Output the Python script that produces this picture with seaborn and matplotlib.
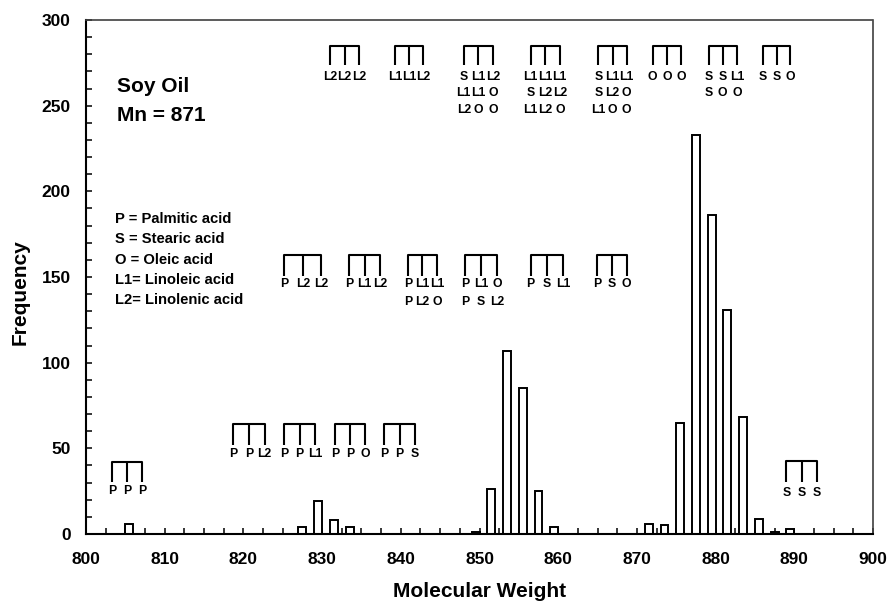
import numpy as np
import pandas as pd
import matplotlib
matplotlib.use("Agg")
import matplotlib.pyplot as plt
import seaborn as sns

# Triglyceride molecular-weight distribution of soy oil
mol_weight = [805, 827, 829, 831, 833, 849, 851, 853, 855, 857, 859,
              871, 873, 875, 877, 879, 881, 883, 885, 887, 889]
frequency = [6, 4, 19, 8, 4, 1, 26, 107, 85, 25, 4,
             6, 5, 65, 233, 186, 131, 68, 9, 1, 3]

x_ticks = [800, 810, 820, 830, 840, 850, 860, 870, 880, 890, 900]
y_ticks = [0, 50, 100, 150, 200, 250, 300]

title_lines = ["Soy Oil", "Mn = 871"]
acid_key = ["P = Palmitic acid", "S = Stearic acid", "O = Oleic acid",
            "L1= Linoleic acid", "L2= Linolenic acid"]

# fatty-acid combinations grouped by band
combos_low = [
    [["P", "P", "P"]],
    [["P", "P", "L2"]],
    [["P", "P", "L1"]],
    [["P", "P", "O"]],
    [["P", "P", "S"]],
    [["S", "S", "S"]],
]
combos_mid = [
    [["P", "L2", "L2"]],
    [["P", "L1", "L2"]],
    [["P", "L1", "L1"], ["P", "L2", "O"]],
    [["P", "L1", "O"], ["P", "S", "L2"]],
    [["P", "S", "L1"]],
    [["P", "S", "O"]],
]
combos_high = [
    [["L2", "L2", "L2"]],
    [["L1", "L1", "L2"]],
    [["S", "L1", "L2"], ["L1", "L1", "O"], ["L2", "O", "O"]],
    [["L1", "L1", "L1"], ["S", "L2", "L2"], ["L1", "L2", "O"]],
    [["S", "L1", "L1"], ["S", "L2", "O"], ["L1", "O", "O"]],
    [["O", "O", "O"]],
    [["S", "S", "L1"], ["S", "O", "O"]],
    [["S", "S", "O"]],
]

# bracket layout: (x left, x right, y top, y tick end, first label y)
layout_low = [
    (803.3, 807.1, 42.3, 30.6, 25.2),
    (818.7, 822.7, 64.3, 52.0, 46.8),
    (825.2, 829.1, 64.3, 52.0, 46.8),
    (831.6, 835.5, 64.3, 52.0, 46.8),
    (837.9, 841.8, 64.3, 52.0, 46.8),
    (889.0, 892.9, 42.8, 30.5, 24.0),
]
layout_mid = [
    (825.2, 829.9, 162.9, 150.6, 145.9),
    (833.4, 837.4, 162.9, 150.6, 145.9),
    (840.9, 844.6, 162.9, 150.6, 145.9),
    (848.2, 852.2, 162.9, 150.6, 145.9),
    (856.5, 860.6, 162.9, 150.6, 145.9),
    (864.9, 868.7, 162.9, 150.6, 145.9),
]
layout_high = [
    (831.0, 834.7, 284.9, 273.8, 267.0),
    (839.3, 842.8, 284.9, 273.8, 267.0),
    (848.0, 851.7, 284.9, 273.8, 267.0),
    (856.5, 860.2, 284.9, 273.8, 267.0),
    (865.1, 868.7, 284.9, 273.8, 267.0),
    (872.0, 875.6, 284.9, 273.8, 267.0),
    (879.1, 882.7, 284.9, 273.8, 267.0),
    (886.0, 889.5, 284.9, 273.8, 267.0),
]

sns.set_style("ticks")
plt.rcParams["font.family"] = ["Liberation Sans", "DejaVu Sans"]
plt.rcParams["font.weight"] = "bold"
plt.rcParams["text.color"] = "black"
plt.rcParams["axes.labelcolor"] = "black"
plt.rcParams["xtick.labelcolor"] = "black"
plt.rcParams["ytick.labelcolor"] = "black"

fig = plt.figure(figsize=(8.91, 6.09), dpi=100)
ax = fig.add_axes([86 / 891, 1 - 534 / 609, 787 / 891, 514 / 609])

df = pd.DataFrame({"mw": mol_weight, "freq": frequency})
sns.histplot(data=df, x="mw", weights="freq", binwidth=1,
             binrange=(800, 900), color="white", edgecolor="black",
             linewidth=1.4, alpha=1.0, ax=ax)

ax.set_xlim(800, 900)
ax.set_ylim(0, 300)
ax.set_xticks(x_ticks)
ax.set_yticks(y_ticks)
ax.set_xticks(np.arange(800, 900.1, 2.5), minor=True)
ax.set_yticks(np.arange(0, 301, 10), minor=True)
ax.tick_params(axis="both", which="both", direction="in", length=4,
               width=1.1, color="black", top=False, right=False)
ax.tick_params(axis="x", which="major", pad=13, labelsize=12.5,
               labelcolor="black")
ax.tick_params(axis="y", which="major", pad=11, labelsize=12.5,
               labelcolor="black")
for lab in ax.get_xticklabels() + ax.get_yticklabels():
    lab.set_fontweight("bold")

ax.set_xlabel("Molecular Weight", fontsize=15, fontweight="bold",
              labelpad=11, color="black")
ax.set_ylabel("Frequency", fontsize=15, fontweight="bold", labelpad=10,
              color="black")
ax.yaxis.set_label_coords(-0.071, 0.47)

for side in ["left", "bottom"]:
    ax.spines[side].set_linewidth(1.5)
    ax.spines[side].set_color("black")
for side in ["top", "right"]:
    ax.spines[side].set_visible(True)
    ax.spines[side].set_linewidth(1.2)
    ax.spines[side].set_color("0.25")
    ax.spines[side].set_linestyle((0, (1.5, 1)))


def draw_brackets(combos, layout, row_step, size=8.8):
    for rows, (x0, x2, ytop, yend, ylab) in zip(combos, layout):
        x1 = (x0 + x2) / 2
        ax.plot([x0, x0, x2, x2], [yend, ytop, ytop, yend],
                color="black", lw=1.5, solid_capstyle="butt")
        ax.plot([x1, x1], [ytop, yend], color="black", lw=1.5,
                solid_capstyle="butt")
        for r, row in enumerate(rows):
            for xc, lab in zip([x0, x1, x2], row):
                ax.text(xc, ylab - r * row_step, lab, ha="center",
                        va="center", fontsize=size, fontweight="bold",
                        color="black")


draw_brackets(combos_low, layout_low, 10.0)
draw_brackets(combos_mid, layout_mid, 10.3)
draw_brackets(combos_high, layout_high, 9.75)

ax.text(803.9, 261, title_lines[0], ha="left", va="center",
        fontsize=15, fontweight="bold", color="black")
ax.text(803.9, 244, title_lines[1], ha="left", va="center",
        fontsize=15, fontweight="bold", color="black")

for i, line in enumerate(acid_key):
    ax.text(803.7, 183.7 - i * 11.75, line, ha="left", va="center",
            fontsize=10.6, fontweight="bold", color="black")

fig.savefig("out.png", dpi=100)
